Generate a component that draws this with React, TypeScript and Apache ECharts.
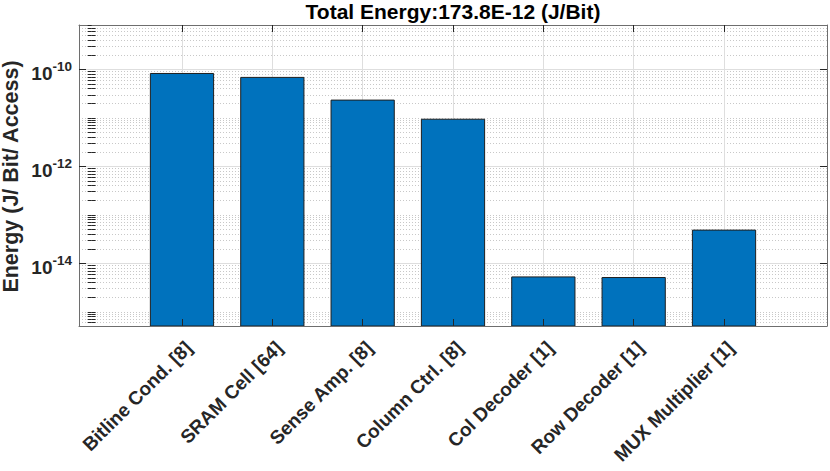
import { useEffect, useRef } from "react";
import * as echarts from "echarts";

const categories = [
  "Bitline Cond. [8]",
  "SRAM Cell [64]",
  "Sense Amp. [8]",
  "Column Ctrl. [8]",
  "Col Decoder [1]",
  "Row Decoder [1]",
  "MUX Multiplier [1]",
];
const energies = [8.25e-11, 6.85e-11, 2.33e-11, 9.4e-12, 5.25e-15, 5.1e-15, 4.85e-14];
const titleText = "Total Energy:173.8E-12 (J/Bit)";
const yAxisTitle = "Energy (J/ Bit/ Access)";
const majorYTicks = [1e-14, 1e-12, 1e-10];
const tickDecades = [-16, -15, -14, -13, -12, -11, -10, -9];
const tickMultipliers = [1, 2, 3, 4, 5, 6, 7, 8, 9];
const categoryPositions = categories.map((_, i) => i + 1);

const X_MIN = -0.14;
const X_MAX = 8.14;
const BAR_UNITS = 0.7;
const Y_MIN = Math.min(...energies) / 10;
const Y_MAX = Math.max(...energies) * 10;

const minorYTicks: number[] = [];
tickDecades.forEach((e) => {
  tickMultipliers.forEach((k) => {
    const v = Number((k * Math.pow(10, e)).toPrecision(3));
    if (v >= Y_MIN && v <= Y_MAX && !majorYTicks.some((m) => Math.abs(m - v) / m < 1e-6)) {
      minorYTicks.push(v);
    }
  });
});

const FONT = "'Liberation Sans', Arial, Helvetica, sans-serif";
const TEXT = "#262626";
const FRAME = "#6e6e6e";

export default function App() {
  const ref = useRef<HTMLDivElement>(null);
  useEffect(() => {
    if (!ref.current) return;
    const chart = echarts.init(ref.current, undefined, { renderer: "svg" });
    const yBase = {
      type: "log" as const,
      logBase: 10,
      min: Y_MIN,
      max: Y_MAX,
      gridIndex: 0,
    };
    chart.setOption({
      animation: false,
      backgroundColor: "#ffffff",
      grid: { left: 79, right: 3, top: 25, bottom: 145, containLabel: false },
      graphic: [
        {
          type: "text",
          x: 453,
          y: 11,
          style: {
            text: titleText,
            fontFamily: FONT,
            fontWeight: "bold",
            fontSize: 21,
            fill: "#000000",
            align: "center",
            verticalAlign: "middle",
          },
          z: 100,
        },
        {
          type: "text",
          x: 11,
          y: 176.5,
          rotation: Math.PI / 2,
          style: {
            text: yAxisTitle,
            fontFamily: FONT,
            fontWeight: "bold",
            fontSize: 21.5,
            fill: TEXT,
            align: "center",
            verticalAlign: "middle",
          },
          z: 100,
        },
      ],
      xAxis: [
        {
          type: "value",
          position: "bottom",
          min: X_MIN,
          max: X_MAX,
          axisLine: { show: false },
          axisTick: { show: false, customValues: categoryPositions },
          axisLabel: { show: false, customValues: categoryPositions },
          splitLine: { show: true, lineStyle: { color: "#dedede", width: 1, type: "solid" } },
          z: 0,
        },
        {
          type: "value",
          position: "bottom",
          min: X_MIN,
          max: X_MAX,
          axisLine: { show: true, onZero: false, lineStyle: { color: FRAME, width: 1 } },
          axisTick: {
            show: true,
            inside: true,
            length: 7,
            customValues: categoryPositions,
            lineStyle: { color: TEXT, width: 1 },
          },
          axisLabel: {
            show: true,
            customValues: categoryPositions,
            formatter: (v: number) => categories[Math.round(v) - 1] ?? "",
            rotate: 45,
            align: "right",
            verticalAlign: "top",
            margin: 12,
            fontFamily: FONT,
            fontWeight: "bold",
            fontSize: 19,
            color: TEXT,
          },
          splitLine: { show: false },
          z: 10,
        },
        {
          type: "value",
          position: "top",
          min: X_MIN,
          max: X_MAX,
          axisLine: { show: true, onZero: false, lineStyle: { color: FRAME, width: 1 } },
          axisTick: {
            show: true,
            inside: true,
            length: 7,
            customValues: categoryPositions,
            lineStyle: { color: TEXT, width: 1 },
          },
          axisLabel: { show: false },
          splitLine: { show: false },
          z: 10,
        },
      ],
      yAxis: [
        {
          ...yBase,
          position: "left",
          axisLine: { show: true, onZero: false, lineStyle: { color: FRAME, width: 1 } },
          axisTick: {
            show: true,
            inside: true,
            length: 7,
            customValues: majorYTicks,
            lineStyle: { color: TEXT, width: 1 },
          },
          axisLabel: {
            show: true,
            customValues: majorYTicks,
            margin: 7,
            formatter: (v: number) => `{b|10}{s|${Math.round(Math.log10(v))}}`,
            rich: {
              b: {
                fontFamily: FONT,
                fontWeight: "bold",
                fontSize: 19,
                color: TEXT,
                padding: [7.4, 0, 0, 0],
              },
              s: {
                fontFamily: FONT,
                fontWeight: "bold",
                fontSize: 13.5,
                color: TEXT,
                padding: [0, 0, 5.2, 0],
              },
            },
          },
          splitLine: { show: true, lineStyle: { color: "#dedede", width: 1, type: "solid" } },
          z: 0,
        },
        {
          ...yBase,
          position: "left",
          axisLine: { show: false },
          axisTick: {
            show: true,
            inside: true,
            length: 4,
            customValues: minorYTicks,
            lineStyle: { color: TEXT, width: 1 },
          },
          axisLabel: { show: false },
          splitLine: { show: true, lineStyle: { color: "#c8c8c8", width: 1, type: [1, 2] } },
          z: 0,
        },
        {
          ...yBase,
          position: "right",
          axisLine: { show: true, onZero: false, lineStyle: { color: FRAME, width: 1 } },
          axisTick: {
            show: true,
            inside: true,
            length: 7,
            customValues: majorYTicks,
            lineStyle: { color: TEXT, width: 1 },
          },
          axisLabel: { show: false },
          splitLine: { show: false },
          z: 10,
        },
        {
          ...yBase,
          position: "right",
          axisLine: { show: false },
          axisTick: {
            show: true,
            inside: true,
            length: 4,
            customValues: minorYTicks,
            lineStyle: { color: TEXT, width: 1 },
          },
          axisLabel: { show: false },
          splitLine: { show: false },
          z: 10,
        },
      ],
      series: [
        {
          type: "custom",
          name: "Energy",
          xAxisIndex: 0,
          yAxisIndex: 0,
          z: 5,
          clip: true,
          data: energies.map((v, i) => [categoryPositions[i], v]),
          renderItem: (params: any, api: any) => {
            const x = api.value(0);
            const y = api.value(1);
            const topLeft = api.coord([x - BAR_UNITS / 2, y]);
            const bottomRight = api.coord([x + BAR_UNITS / 2, Y_MIN]);
            return {
              type: "rect",
              shape: {
                x: topLeft[0],
                y: topLeft[1],
                width: bottomRight[0] - topLeft[0],
                height: bottomRight[1] - topLeft[1],
              },
              style: { fill: "#0072BD", stroke: "#1f1f1f", lineWidth: 1 },
            };
          },
        },
      ],
    });
    return () => chart.dispose();
  }, []);
  return (
    <div
      ref={ref}
      style={{ position: "fixed", left: 0, top: 0, width: 830, height: 471, background: "#fff" }}
    />
  );
}
